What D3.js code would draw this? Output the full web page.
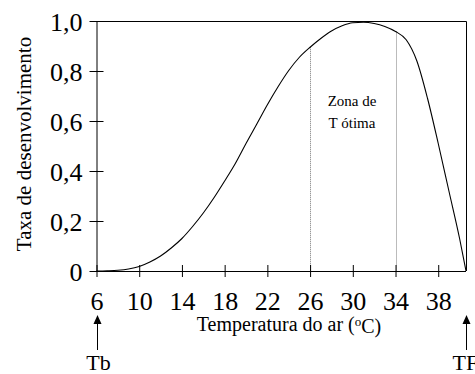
<!DOCTYPE html>
<html>
<head>
<meta charset="utf-8">
<script src="https://cdnjs.cloudflare.com/ajax/libs/d3/7.8.5/d3.min.js"></script>
<style>
  html, body { margin: 0; padding: 0; background: #fff; }
  svg { display: block; }
  svg text { font-family: "Liberation Serif", "Times New Roman", serif; fill: #000; }
</style>
</head>
<body>
<div id="container"></div>
<script>
// temperature (oC) and development rate
const temps = [6, 7, 8, 9, 10, 11, 12, 13, 14, 15, 16, 17, 18, 19, 20, 21, 22, 23, 24, 25, 26, 27, 28, 29, 30, 31, 32, 33, 34, 35, 36, 37, 38, 39, 40, 40.6];
const rates = [0, 0.001, 0.003, 0.008, 0.018, 0.036, 0.06, 0.092, 0.13, 0.178, 0.232, 0.293, 0.36, 0.43, 0.51, 0.587, 0.665, 0.737, 0.802, 0.855, 0.895, 0.93, 0.96, 0.981, 0.993, 0.995, 0.99, 0.978, 0.958, 0.925, 0.84, 0.69, 0.51, 0.32, 0.13, 0];

// optimal zone limits
const zoneTemps = [26, 34];
const zoneRates = [0.895, 0.958];

const xTicks = [6, 10, 14, 18, 22, 26, 30, 34, 38];
const yTicks = [0, 0.2, 0.4, 0.6, 0.8, 1.0];
const xDomain = [6, 40.6];

// marked temperatures under the axis
const markTemps = [6, 40.6];
const markLabels = ["Tb", "TF"];

const serif = "'Liberation Serif', 'Times New Roman', serif";

const w = 475;
const h = 374;
const padLeft = 96.5, padRight = 466, padTop = 21, padBottom = 271;

const xScale = d3.scaleLinear().domain(xDomain).range([padLeft, padRight]);
const yScale = d3.scaleLinear().domain([0, 1]).range([padBottom, padTop]);

const svg = d3.select("#container")
              .append("svg")
              .attr("width", w)
              .attr("height", h)
              .attr("font-family", serif);

// box top and right side
svg.append("path")
   .attr("d", "M" + padLeft + "," + (padTop + 0.5) + "H" + (padRight + 0.5) + "V" + padBottom)
   .attr("fill", "none")
   .attr("stroke", "#000");

// dotted limits of the optimal zone
svg.selectAll(".zone")
   .data(zoneTemps)
   .enter()
   .append("line")
   .attr("class", "zone")
   .attr("x1", (d) => Math.round(xScale(d)) + 0.5)
   .attr("x2", (d) => Math.round(xScale(d)) + 0.5)
   .attr("y1", (d, i) => yScale(zoneRates[i]))
   .attr("y2", padBottom)
   .attr("stroke", "#777")
   .attr("stroke-dasharray", "1,1");

// the curve
const line = d3.line()
               .x((d, i) => xScale(temps[i]))
               .y((d) => yScale(d))
               .curve(d3.curveMonotoneX);

svg.append("path")
   .datum(rates)
   .attr("d", line)
   .attr("fill", "none")
   .attr("stroke", "#000")
   .attr("stroke-width", 1.1);

// axes
const xAxis = d3.axisBottom(xScale).tickValues(xTicks).tickSize(6).tickSizeOuter(0);
const yAxis = d3.axisLeft(yScale).tickValues(yTicks).tickSize(7).tickSizeOuter(0)
                .tickFormat((d) => d === 0 ? "0" : d3.format(".1f")(d).replace(".", ","));

const gx = svg.append("g")
   .attr("transform", "translate(0, " + padBottom + ")")
   .call(xAxis)
   .attr("font-family", serif)
   .attr("font-size", 26);

gx.select(".domain").attr("d", "M" + padLeft + ",0.5H" + padRight);
gx.selectAll(".tick line").attr("y1", -6).attr("y2", 6);
gx.selectAll(".tick text")
  .attr("y", 39)
  .attr("dy", null);

const gy = svg.append("g")
   .attr("transform", "translate(" + padLeft + ", 0)")
   .call(yAxis)
   .attr("font-family", serif)
   .attr("font-size", 26);

gy.selectAll(".tick line").attr("x1", -7).attr("x2", 7);
gy.selectAll(".tick text")
  .attr("x", -14)
  .attr("dy", "0.36em");

// zone text
svg.append("text")
   .attr("x", 352)
   .attr("y", 106)
   .attr("text-anchor", "middle")
   .style("font-size", "15px")
   .text("Zona de");

svg.append("text")
   .attr("x", 352)
   .attr("y", 128)
   .attr("text-anchor", "middle")
   .style("font-size", "15px")
   .text("T ótima");

// y axis label
svg.append("text")
   .attr("transform", "translate(31, 144)rotate(-90)")
   .attr("text-anchor", "middle")
   .style("font-size", "21px")
   .text("Taxa de desenvolvimento");

// x axis label
const xl = svg.append("text")
   .attr("x", 289)
   .attr("y", 331)
   .attr("text-anchor", "middle")
   .style("font-size", "20px");
xl.append("tspan").text("Temperatura do ar (");
xl.append("tspan").attr("dy", "-0.35em").style("font-size", "13px").text("o");
xl.append("tspan").attr("dy", "0.35em").text("C)");

// arrows with Tb / TF
const marks = svg.selectAll(".mark")
   .data(markTemps)
   .enter()
   .append("g")
   .attr("class", "mark")
   .attr("transform", (d) => "translate(" + (Math.round(xScale(d)) + 0.5) + ",0)");

marks.append("line")
   .attr("y1", 322)
   .attr("y2", 350)
   .attr("stroke", "#000");

marks.append("path")
   .attr("d", "M0,315L-4,324L4,324Z")
   .attr("fill", "#000");

marks.append("text")
   .attr("x", (d, i) => i === 0 ? 1 : -14)
   .attr("y", 370)
   .attr("text-anchor", (d, i) => i === 0 ? "middle" : "start")
   .style("font-size", "22px")
   .text((d, i) => markLabels[i]);
</script>
</body>
</html>
